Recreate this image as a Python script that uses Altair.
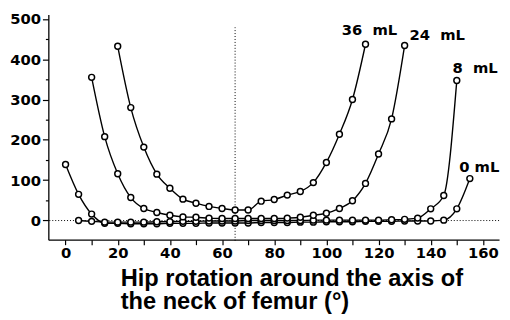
import altair as alt
import pandas as pd

# ---- data ----
angle_0ml = [0, 5, 10, 15, 20, 25, 30, 35, 40, 45, 50, 55, 60, 65, 70, 75,
             80, 85, 90, 95, 100, 105, 110, 115, 120, 125, 130, 135, 140, 145, 150, 155]
value_0ml = [139, 65, 16, -7, -7, -8, -8, -8, -7, -7, -7, -6, -6, -6, -6, -5,
             -5, -5, -4, -4, -3, -3, -3, -2, -2, -2, -1, -1, -1, 1, 29, 104]

angle_8ml = [5, 10, 15, 20, 25, 30, 35, 40, 45, 50, 55, 60, 65, 70, 75, 80,
             85, 90, 95, 100, 105, 110, 115, 120, 125, 130, 135, 140, 145, 150]
value_8ml = [0, -2, -4, -4, -4, -4, -3, -3, -2, -2, -1, -1, -1, 0, 0, 0,
             0, 0, 1, 1, 1, 1, 1, 1, 2, 3, 6, 29, 62, 347]

angle_24ml = [10, 15, 20, 25, 30, 35, 40, 45, 50, 55, 60, 65, 70, 75, 80,
              85, 90, 95, 100, 105, 110, 115, 120, 125, 130]
value_24ml = [355, 208, 116, 57, 30, 20, 13, 9, 8, 6, 5, 5, 5, 5, 5,
              6, 8, 13, 18, 30, 49, 92, 165, 252, 434]

angle_36ml = [20, 25, 30, 35, 40, 45, 50, 55, 60, 65, 70, 75, 80, 85, 90,
              95, 100, 105, 110, 115]
value_36ml = [432, 280, 182, 115, 80, 53, 43, 35, 30, 26, 26, 48, 52, 63, 72,
              94, 144, 214, 300, 437]

series_names = ["0 mL", "8 mL", "24 mL", "36 mL"]
label_text = ["0\u00a0mL", "8\u00a0\u00a0mL", "24\u00a0\u00a0mL", "36\u00a0\u00a0mL"]
label_angle = [158.6, 157, 142.5, 116.5]
label_value = [121, 365, 448, 460]

x_ticks = [0, 10, 20, 30, 40, 50, 60, 70, 80, 90, 100, 110, 120, 130, 140, 150, 160]
y_ticks = [0, 50, 100, 150, 200, 250, 300, 350, 400, 450, 500]
ref_angle = [65]

rows = []
for name, xs, ys in zip(series_names,
                        [angle_0ml, angle_8ml, angle_24ml, angle_36ml],
                        [value_0ml, value_8ml, value_24ml, value_36ml]):
    for a, v in zip(xs, ys):
        rows.append({"series": name, "angle": a, "value": v})
df = pd.DataFrame(rows)

labels_df = pd.DataFrame({"angle": label_angle, "value": label_value, "text": label_text})

xs = alt.Scale(domain=[-6.6, 166.2], nice=False, zero=False)
ys = alt.Scale(domain=[-47.6, 511], nice=False, zero=False)

x_axis = alt.Axis(
    values=x_ticks,
    labelExpr="datum.value % 20 === 0 ? datum.label : ''",
    grid=False,
    tickSize=5,
    labelPadding=1,
    title=["Hip rotation around the axis of", "the neck of femur (°)"],
    titleX=73,
    titleY=46,
    titleAlign="left",
    titleAnchor="start",
    titleBaseline="alphabetic",
    titleLineHeight=24,
    titleFont="Liberation Sans",
    titleFontSize=24,
    titleFontWeight="bold",
    titleColor="black",
)
y_axis = alt.Axis(
    values=y_ticks,
    labelExpr="datum.value % 100 === 0 ? datum.label : ''",
    grid=False,
    tickSize={"condition": {"test": "datum.value % 100 === 0", "value": 6}, "value": 3},
    labelPadding=2,
    title=None,
)

X = alt.X("angle:Q", scale=xs, axis=x_axis)
Y = alt.Y("value:Q", scale=ys, axis=y_axis)

zero_line = alt.Chart(pd.DataFrame({"value": [0]})).mark_rule(
    color="black", strokeWidth=1, strokeDash=[1, 2]
).encode(y=Y)

vline = alt.Chart(pd.DataFrame({"angle": ref_angle, "value": [-50], "value2": [479]})).mark_rule(
    color="black", strokeWidth=1, strokeDash=[1, 2]
).encode(x=X, y=Y, y2="value2:Q")

lines = alt.Chart(df).mark_line(
    color="black", strokeWidth=1.4, interpolate="monotone"
).encode(x=X, y=Y, detail="series:N")

points = alt.Chart(df).mark_point(
    shape="circle", filled=False, fill="white", fillOpacity=1,
    stroke="black", strokeWidth=1.5, size=36, opacity=1
).encode(x=X, y=Y, detail="series:N")

labels = alt.Chart(labels_df).mark_text(
    font="DejaVu Sans", fontSize=15, fontWeight="bold", color="black",
    align="center", baseline="alphabetic"
).encode(x=X, y=Y, text="text:N")

chart = alt.layer(zero_line, vline, lines, points, labels).properties(
    width=458,
    height=229,
    padding={"left": 41, "top": 4, "right": 3, "bottom": 75},
    autosize=alt.AutoSizeParams(type="none"),
).configure_view(stroke=None).configure_axis(
    domainColor="black",
    domainWidth=1.3,
    tickColor="black",
    tickWidth=1.2,
    labelFont="DejaVu Sans",
    labelFontSize=15,
    labelFontWeight="bold",
    labelColor="black",
)

chart.save("out.html", embed_options={"renderer": "svg", "actions": False})
